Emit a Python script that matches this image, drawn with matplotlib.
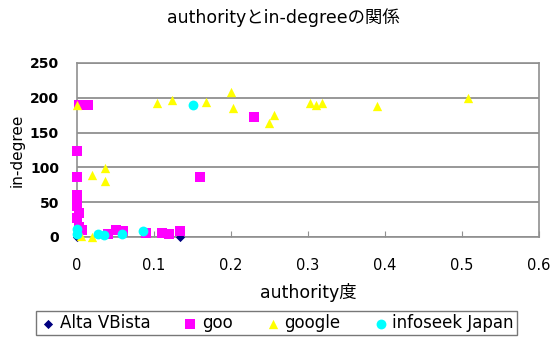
import numpy as np
import matplotlib
matplotlib.use('Agg')
import matplotlib.pyplot as plt

plt.rcParams['font.family'] = ['DejaVu Sans', 'Noto Sans CJK JP']

# authority と in-degree の値 (検索エンジン別)
alta_x = [0.134, 0.0]
alta_y = [0, 0]

goo_x = [0.003, 0.014, 0.0, 0.0, 0.0, 0.0, 0.0, 0.002, 0.0, 0.003, 0.007,
         0.04, 0.05, 0.06, 0.09, 0.11, 0.12, 0.134, 0.16, 0.23]
goo_y = [190, 190, 123, 86, 60, 52, 45, 35, 28, 15, 10,
         5, 10, 8, 6, 6, 5, 8, 86, 172]

google_x = [0.0, 0.02, 0.037, 0.037, 0.104, 0.124, 0.167, 0.2, 0.202,
            0.249, 0.256, 0.302, 0.31, 0.318, 0.39, 0.508, 0.02, 0.005]
google_y = [190, 89, 99, 80, 192, 197, 194, 208, 185,
            164, 175, 192, 190, 192, 188, 200, 0, 2]

infoseek_x = [0.0, 0.0, 0.027, 0.035, 0.059, 0.086, 0.151]
infoseek_y = [5, 12, 5, 3, 5, 8, 190]

fig = plt.figure(figsize=(5.5, 3.37), dpi=100)
ax = fig.add_axes([77 / 550, 1 - 237 / 337, 462 / 550, 174 / 337])

kw = dict(zorder=3, clip_on=False, linewidths=0)
ax.scatter(alta_x, alta_y, marker='D', s=22, color='#000080', label='Alta VBista', **kw)
ax.scatter(goo_x, goo_y, marker='s', s=50, color='#FF00FF', label='goo', **kw)
ax.scatter(google_x, google_y, marker='^', s=45, color='#FFFF00', label='google', **kw)
ax.scatter(infoseek_x, infoseek_y, marker='o', s=50, color='#00FFFF', label='infoseek Japan', **kw)

ax.set_xlim(0, 0.6)
ax.set_ylim(0, 250)
ax.set_xticks(np.arange(0, 0.61, 0.1))
ax.set_xticklabels(['0', '0.1', '0.2', '0.3', '0.4', '0.5', '0.6'])
ax.set_yticks(np.arange(0, 251, 50))
ax.yaxis.grid(True, color='#909090', linewidth=1.3)
ax.set_axisbelow(True)
for s in ax.spines.values():
    s.set_color('#909090')
    s.set_linewidth(1.2)
ax.tick_params(axis='x', labelsize=10.5, length=4, direction='in', color='#909090', pad=15)
ax.tick_params(axis='y', labelsize=10, length=0, pad=13)
for t in ax.get_yticklabels():
    t.set_fontweight('bold')

ax.set_xlabel('authority度', fontsize=12.5, labelpad=7)
ax.set_ylabel('in-degree', fontsize=11, labelpad=4)
fig.text(0.515, 0.947, 'authorityとin-degreeの関係', ha='center', va='center', fontsize=12.5)

fig.legend(loc='lower left', bbox_to_anchor=(28 / 550, -0.02),
           ncol=4, fontsize=12, frameon=True, fancybox=False,
           edgecolor='#555555', handletextpad=0.2, borderpad=0.2,
           handlelength=1.0, columnspacing=1.9)

fig.savefig('out.png', dpi=100)
